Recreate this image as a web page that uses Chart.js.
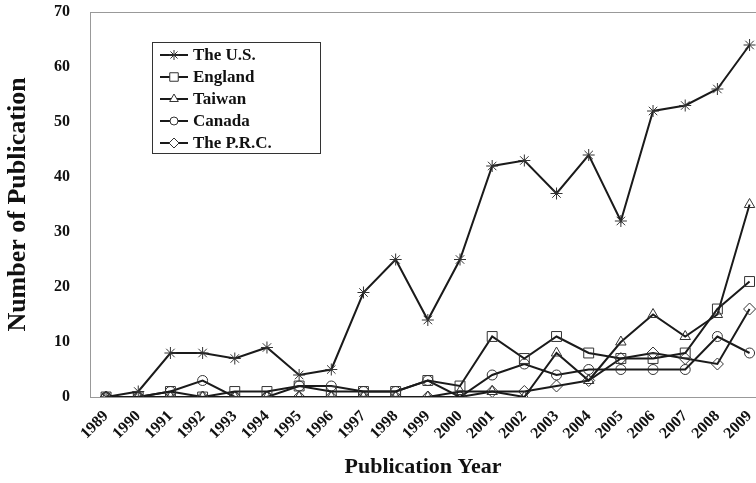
<!DOCTYPE html>
<html>
<head>
<meta charset="utf-8">
<script src="https://cdn.jsdelivr.net/npm/chart.js@4"></script>
<style>
  html, body { margin: 0; padding: 0; background: #fff; }
  #wrap { width: 756px; height: 483px; }
</style>
</head>
<body>
<div id="wrap"><canvas id="grafico"></canvas></div>
<script>
var years = [1989, 1990, 1991, 1992, 1993, 1994, 1995, 1996, 1997, 1998, 1999,
             2000, 2001, 2002, 2003, 2004, 2005, 2006, 2007, 2008, 2009];
var usa     = [0, 1, 8, 8, 7, 9, 4, 5, 19, 25, 14, 25, 42, 43, 37, 44, 32, 52, 53, 56, 64];
var england = [0, 0, 1, 0, 1, 1, 2, 1, 1, 1, 3, 2, 11, 7, 11, 8, 7, 7, 8, 16, 21];
var taiwan  = [0, 0, 0, 0, 0, 0, 0, 0, 0, 0, 0, 1, 1, 0, 8, 3, 10, 15, 11, 15, 35];
var canada  = [0, 0, 1, 3, 0, 0, 2, 2, 1, 1, 3, 0, 4, 6, 4, 5, 5, 5, 5, 11, 8];
var prc     = [0, 0, 0, 0, 0, 0, 0, 0, 0, 0, 0, 0, 1, 1, 2, 3, 7, 8, 7, 6, 16];
var yTicks  = [0, 10, 20, 30, 40, 50, 60, 70];

var serif = '"Liberation Serif", "Times New Roman", serif';

function pts(vals) {
    return years.map(function (y, i) { return { x: y, y: vals[i] }; });
}

function serie(label, vals, style, r) {
    return {
        label: label,
        data: pts(vals),
        borderColor: '#1a1a1a',
        borderWidth: 2,
        pointStyle: style,
        pointRadius: r,
        pointBorderWidth: 1,
        pointBorderColor: '#333',
        pointBackgroundColor: 'rgba(255,255,255,0)',
        tension: 0,
        fill: false
    };
}

// frame on top + legend box inside the plot
var framePlugin = {
    id: 'frame',
    afterDraw: function (chart) {
        var c = chart.ctx, a = chart.chartArea;
        c.save();
        c.strokeStyle = '#999';
        c.lineWidth = 1;
        c.beginPath();
        c.moveTo(a.left, a.top + 0.5);
        c.lineTo(a.right, a.top + 0.5);
        c.stroke();

        // legend
        var bx = 152, by = 42, bw = 168, bh = 111;
        c.strokeStyle = '#333';
        c.lineWidth = 1;
        c.strokeRect(bx + 0.5, by + 0.5, bw, bh);
        c.font = 'bold 17px ' + serif;
        c.textBaseline = 'middle';
        chart.data.datasets.forEach(function (ds, i) {
            var y = by + 13 + i * 22;
            c.strokeStyle = '#1a1a1a';
            c.lineWidth = 2;
            c.beginPath();
            c.moveTo(160, y);
            c.lineTo(188, y);
            c.stroke();
            c.lineWidth = 1;
            c.strokeStyle = '#333';
            c.fillStyle = '#fff';
            Chart.helpers.drawPoint(c, { pointStyle: ds.pointStyle, radius: ds.pointRadius - 1, borderWidth: 1 }, 174, y);
            c.fillStyle = '#111';
            c.fillText(ds.label, 193, y + 1);
        });
        c.restore();
    }
};

var ctx = document.getElementById('grafico');
var myChart = new Chart(ctx, {
    type: 'line',
    data: {
        datasets: [
            serie('The U.S.', usa, 'star', 6),
            serie('England', england, 'rect', 7),
            serie('Taiwan', taiwan, 'triangle', 6),
            serie('Canada', canada, 'circle', 5),
            serie('The P.R.C.', prc, 'rectRot', 6)
        ]
    },
    options: {
        responsive: true,
        maintainAspectRatio: false,
        animation: false,
        layout: { autoPadding: false, padding: { top: 12, right: 0, left: 0, bottom: 0 } },
        plugins: {
            legend: { display: false },
            tooltip: { enabled: false }
        },
        scales: {
            x: {
                type: 'linear',
                min: 1988.5,
                max: 2009.2,
                afterBuildTicks: function (axis) {
                    axis.ticks = years.map(function (y) { return { value: y }; });
                },
                afterFit: function (s) {
                    s.height = 86;
                    s.paddingLeft = 0;
                    s.paddingRight = 0;
                },
                grid: { display: false },
                border: { display: true, color: '#999', width: 1 },
                ticks: {
                    color: '#111',
                    font: { family: serif, size: 16, weight: 'bold' },
                    minRotation: 45,
                    maxRotation: 45,
                    padding: 2,
                    callback: function (v) { return String(v); }
                },
                title: {
                    display: true,
                    text: 'Publication Year',
                    color: '#111',
                    font: { family: serif, size: 22, weight: 'bold' },
                    padding: { top: 0, bottom: 2 }
                }
            },
            y: {
                min: 0,
                max: 70,
                afterBuildTicks: function (axis) {
                    axis.ticks = yTicks.map(function (v) { return { value: v }; });
                },
                afterFit: function (s) {
                    s.width = 90;
                    s.paddingTop = 0;
                    s.paddingBottom = 0;
                },
                grid: { display: false },
                border: { display: true, color: '#999', width: 1 },
                ticks: {
                    color: '#111',
                    font: { family: serif, size: 16, weight: 'bold' },
                    padding: 12
                },
                title: {
                    display: true,
                    text: 'Number of Publication',
                    color: '#111',
                    font: { family: serif, size: 26, weight: 'bold' },
                    padding: { top: 3, bottom: 0 }
                }
            }
        }
    },
    plugins: [framePlugin]
});
</script>
</body>
</html>
